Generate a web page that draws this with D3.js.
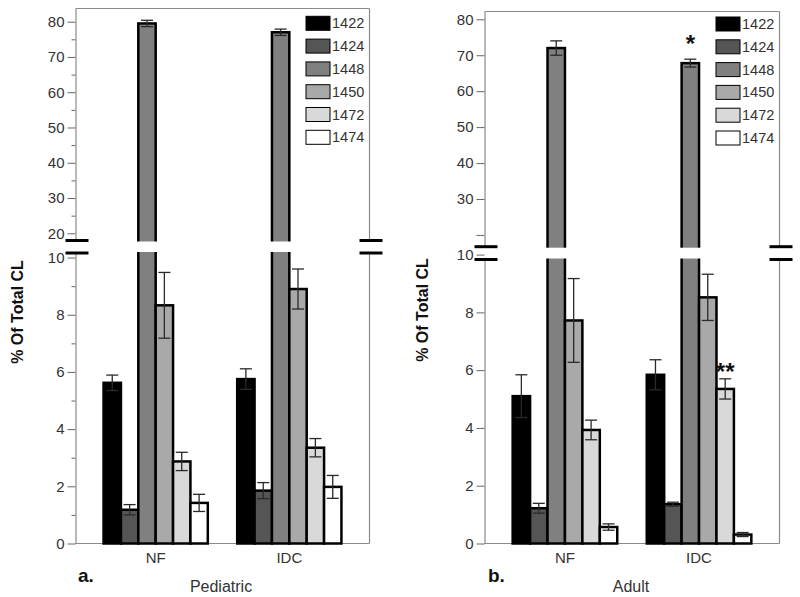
<!DOCTYPE html>
<html>
<head>
<meta charset="utf-8">
<script src="https://cdn.jsdelivr.net/npm/d3@7"></script>
<style>
  html, body { margin: 0; padding: 0; background: #fff; }
  svg { display: block; font-family: "Liberation Sans", Arial, Helvetica, sans-serif; }
</style>
</head>
<body>
<svg id="chart" width="800" height="597"></svg>
<script>
// ---------------- data ----------------
const categories = ["NF", "IDC"];
const series = ["1422", "1424", "1448", "1450", "1472", "1474"];
const seriesColors = ["#000000", "#555555", "#808080", "#a9a9a9", "#d9d9d9", "#ffffff"];

const pediatricNF = [5.62, 1.18, 79.5, 8.33, 2.87, 1.42];
const pediatricNFErr = [0.27, 0.18, 0.9, 1.15, 0.32, 0.30];
const pediatricIDC = [5.75, 1.85, 77.0, 8.90, 3.35, 1.98];
const pediatricIDCErr = [0.36, 0.28, 0.9, 0.70, 0.32, 0.40];

const adultNF = [5.10, 1.22, 72.0, 7.72, 3.93, 0.57];
const adultNFErr = [0.74, 0.17, 2.0, 1.45, 0.34, 0.11];
const adultIDC = [5.84, 1.36, 67.8, 8.52, 5.35, 0.31];
const adultIDCErr = [0.52, 0.07, 1.1, 0.80, 0.35, 0.07];

const pediatricUpperTicks = [20, 30, 40, 50, 60, 70, 80];
const pediatricUpperMinor = [25, 35, 45, 55, 65, 75];
const pediatricLowerTicks = [0, 2, 4, 6, 8, 10];
const pediatricLowerMinor = [1, 3, 5, 7, 9];
const adultUpperTicks = [20, 30, 40, 50, 60, 70, 80];
const adultUpperLabels = ["", "30", "40", "50", "60", "70", "80"];
const adultLowerTicks = [0, 2, 4, 6, 8, 10];

const annotations = [
  { panel: "Adult", category: "IDC", series: "1448", text: "*" },
  { panel: "Adult", category: "IDC", series: "1472", text: "**" }
];

// ---------------- layout ----------------
const panels = [
  {
    name: "Pediatric", letter: "a.",
    means: { NF: pediatricNF, IDC: pediatricIDC },
    errs: { NF: pediatricNFErr, IDC: pediatricIDCErr },
    x0: 75.5, x1: 369.5, top: 8.5, breakTop: 240.5, breakBot: 253, bottom: 543.5,
    upperDomain: [17.96, 83.74], lowerDomain: [0, 10.16],
    upperTicks: pediatricUpperTicks, upperLabels: pediatricUpperTicks.map(String),
    upperMinor: pediatricUpperMinor,
    lowerTicks: pediatricLowerTicks, lowerMinor: pediatricLowerMinor,
    legendX: 306, legendY: 23.3,
    titleX: 17, titleY: 312, letterX: 78, nameX: 221, nameY: 592
  },
  {
    name: "Adult", letter: "b.",
    means: { NF: adultNF, IDC: adultIDC },
    errs: { NF: adultNFErr, IDC: adultIDCErr },
    x0: 484.5, x1: 779.5, top: 11.5, breakTop: 246.7, breakBot: 259.5, bottom: 543.5,
    upperDomain: [16.73, 82.17], lowerDomain: [0, 9.83],
    upperTicks: adultUpperTicks, upperLabels: adultUpperLabels,
    upperMinor: [],
    lowerTicks: adultLowerTicks, lowerMinor: [],
    legendX: 716, legendY: 24,
    titleX: 422, titleY: 310, letterX: 488, nameX: 631, nameY: 592
  }
];

const svg = d3.select("#chart");
const frameColor = "#8a8a8a";
const tickColor = "#666";
const textColor = "#333";

panels.forEach(p => {
  const g = svg.append("g");
  const yU = d3.scaleLinear().domain(p.upperDomain).range([p.breakTop, p.top]);
  const yL = d3.scaleLinear().domain(p.lowerDomain).range([p.bottom, p.breakBot]);
  const brk = p.lowerDomain[1];
  const yAny = v => v > brk ? yU(v) : yL(v);

  const xG = d3.scaleBand().domain(categories).range([p.x0, p.x1]).paddingInner(0.22).paddingOuter(0.21);
  const xS = d3.scaleBand().domain(series).range([0, xG.bandwidth()]);
  const color = d3.scaleOrdinal().domain(series).range(seriesColors);

  // frame
  g.append("line").attr("x1", p.x0).attr("x2", p.x1).attr("y1", p.top).attr("y2", p.top)
    .attr("stroke", frameColor).attr("stroke-width", 1.2);
  g.append("line").attr("x1", p.x1).attr("x2", p.x1).attr("y1", p.top).attr("y2", p.breakTop)
    .attr("stroke", frameColor).attr("stroke-width", 1.2);
  g.append("line").attr("x1", p.x1).attr("x2", p.x1).attr("y1", p.breakBot).attr("y2", p.bottom)
    .attr("stroke", frameColor).attr("stroke-width", 1.2);
  g.append("line").attr("x1", p.x0).attr("x2", p.x1).attr("y1", p.bottom).attr("y2", p.bottom)
    .attr("stroke", frameColor).attr("stroke-width", 1.2);

  // axes
  const styleAxis = sel => {
    sel.select(".domain").attr("stroke", frameColor).attr("stroke-width", 1.2);
    sel.selectAll(".tick line").attr("stroke", tickColor).attr("stroke-width", 1);
    sel.selectAll(".tick text").attr("fill", textColor).style("font-size", "15px")
      .style("font-family", '"Liberation Sans", Arial, sans-serif');
  };
  const upperAxis = g.append("g").attr("transform", `translate(${p.x0},0)`)
    .call(d3.axisLeft(yU).tickValues(p.upperTicks)
      .tickFormat((d, i) => p.upperLabels[i]).tickSize(8).tickPadding(3).tickSizeOuter(0));
  styleAxis(upperAxis);
  const lowerAxis = g.append("g").attr("transform", `translate(${p.x0},0)`)
    .call(d3.axisLeft(yL).tickValues(p.lowerTicks).tickSize(8).tickPadding(3).tickSizeOuter(0));
  styleAxis(lowerAxis);
  if (p.upperMinor.length) {
    const m = g.append("g").attr("transform", `translate(${p.x0},0)`)
      .call(d3.axisLeft(yU).tickValues(p.upperMinor).tickFormat("").tickSize(4).tickSizeOuter(0));
    m.select(".domain").remove();
    m.selectAll(".tick line").attr("stroke", tickColor);
  }
  if (p.lowerMinor.length) {
    const m = g.append("g").attr("transform", `translate(${p.x0},0)`)
      .call(d3.axisLeft(yL).tickValues(p.lowerMinor).tickFormat("").tickSize(4).tickSizeOuter(0));
    m.select(".domain").remove();
    m.selectAll(".tick line").attr("stroke", tickColor);
  }

  // category axis labels
  const xAxis = g.append("g").attr("transform", `translate(0,${p.bottom})`)
    .call(d3.axisBottom(xG).tickSize(0).tickPadding(9));
  xAxis.select(".domain").remove();
  xAxis.selectAll(".tick text").attr("fill", textColor).style("font-size", "15px")
    .style("font-family", '"Liberation Sans", Arial, sans-serif');

  // bars
  const rows = [];
  categories.forEach(c => series.forEach((s, i) => {
    rows.push({ c, s, v: p.means[c][i], e: p.errs[c][i] });
  }));
  const barG = g.append("g");
  rows.forEach(r => {
    const x = xG(r.c) + xS(r.s);
    const w = xS.bandwidth();
    if (r.v > brk) {
      barG.append("rect").attr("x", x).attr("width", w)
        .attr("y", yL(brk) - 3).attr("height", p.bottom - yL(brk) + 3)
        .attr("fill", color(r.s)).attr("stroke", "#000").attr("stroke-width", 2.5);
      barG.append("rect").attr("x", x).attr("width", w)
        .attr("y", yU(r.v)).attr("height", yU.range()[0] + 3 - yU(r.v))
        .attr("fill", color(r.s)).attr("stroke", "#000").attr("stroke-width", 2.5);
    } else {
      barG.append("rect").attr("x", x).attr("width", w)
        .attr("y", yL(r.v)).attr("height", p.bottom - yL(r.v))
        .attr("fill", color(r.s)).attr("stroke", "#000").attr("stroke-width", 2.5);
    }
  });

  // break gap (white) inside plot
  g.append("rect").attr("x", p.x0 + 1).attr("width", p.x1 - p.x0 - 2)
    .attr("y", p.breakTop + 1).attr("height", p.breakBot - p.breakTop - 2).attr("fill", "#fff");

  // error bars
  const errG = g.append("g");
  rows.forEach(r => {
    const cx = xG(r.c) + xS(r.s) + xS.bandwidth() / 2;
    const y1 = yAny(r.v + r.e), y2 = yAny(r.v - r.e);
    const cap = 6;
    [[cx, cx, y1, y2], [cx - cap, cx + cap, y1, y1], [cx - cap, cx + cap, y2, y2]].forEach(l => {
      errG.append("line").attr("x1", l[0]).attr("x2", l[1]).attr("y1", l[2]).attr("y2", l[3])
        .attr("stroke", "#2a2a2a").attr("stroke-width", 1.3);
    });
  });

  // break marks
  [p.breakTop, p.breakBot].forEach(yb => {
    [[p.x0 - 10, p.x0 + 13], [p.x1 - 10, p.x1 + 13]].forEach(xx => {
      g.append("line").attr("x1", xx[0]).attr("x2", xx[1]).attr("y1", yb).attr("y2", yb)
        .attr("stroke", "#000").attr("stroke-width", 3);
    });
  });

  // legend
  const leg = g.append("g");
  series.forEach((s, i) => {
    const yy = p.legendY + i * 22.8;
    leg.append("rect").attr("x", p.legendX).attr("y", yy - 7).attr("width", 24).attr("height", 14)
      .attr("fill", color(s)).attr("stroke", "#000").attr("stroke-width", 1);
    leg.append("text").attr("x", p.legendX + 26).attr("y", yy).attr("dy", "0.35em")
      .attr("fill", textColor).style("font-size", "14.5px").text(s);
  });

  // annotations
  annotations.filter(a => a.panel === p.name).forEach(a => {
    const i = series.indexOf(a.series);
    const v = p.means[a.category][i], e = p.errs[a.category][i];
    const cx = xG(a.category) + xS(a.series) + xS.bandwidth() / 2;
    const top = yAny(v + e);
    g.append("text").attr("x", cx).attr("y", top + (a.text.length > 1 ? 1 : -7))
      .attr("text-anchor", "middle").style("font-size", "24px").style("font-weight", "bold")
      .attr("fill", "#111").text(a.text);
  });

  // axis title
  g.append("text").attr("transform", `translate(${p.titleX},${p.titleY}) rotate(-90)`)
    .attr("text-anchor", "middle").attr("dy", "0.35em")
    .style("font-size", "16px").style("font-weight", "bold").attr("fill", "#111")
    .text("% Of Total CL");

  // panel letter and name
  g.append("text").attr("x", p.letterX).attr("y", 582).style("font-size", "19px")
    .style("font-weight", "bold").attr("fill", "#111").text(p.letter);
  g.append("text").attr("x", p.nameX).attr("y", p.nameY).attr("text-anchor", "middle")
    .style("font-size", "16px").attr("fill", textColor).text(p.name);
});
</script>
</body>
</html>
